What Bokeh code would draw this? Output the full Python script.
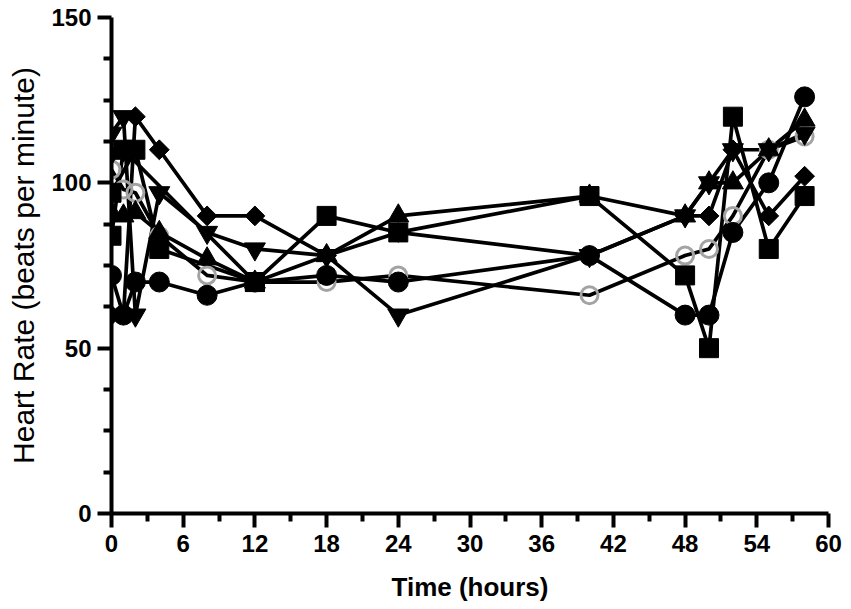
import math
from bokeh.plotting import figure
from bokeh.models import Range1d, FixedTicker
from bokeh.embed import file_html
from bokeh.resources import INLINE

NaN = float("nan")

# Time points (hours)
hours = [0, 1, 2, 4, 8, 12, 18, 24, 40, 48, 50, 52, 55, 58]

# Heart rate (beats per minute) per subject
hr_circle     = [72, 60, 70, 70, 66, 70, 72, 70, 78, 60, 60, 85, 100, 126]
hr_open       = [104, 98, 97, 84, 72, 70, 70, 72, 66, 78, 80, 90, 110, 114]
hr_square_a   = [97, NaN, 110, 80, NaN, 70, 90, 85, 96, 72, 50, 120, 80, 96]
hr_square_b   = [84, 110, NaN, NaN, NaN, 70, NaN, NaN, NaN, NaN, NaN, NaN, NaN, NaN]
hr_tri_up     = [91, 90, 91, 85, 77, 70, 78, 90, 96, 90, 100, 100, 110, 119]
hr_tri_down_a = [115, 120, 60, 97, 85, 80, 78, 60, 78, 90, 100, 110, 110, 115]
hr_tri_down_b = [109, 110, NaN, NaN, NaN, NaN, NaN, NaN, NaN, NaN, NaN, NaN, NaN, NaN]
hr_diamond    = [60, 60, 120, 110, 90, 90, 78, 85, 78, 90, 90, 110, 90, 102]

x_ticks = [0, 6, 12, 18, 24, 30, 36, 42, 48, 54, 60]
x_minor = [3, 9, 15, 21, 27, 33, 39, 45, 51, 57]
y_ticks = [0, 50, 100, 150]
y_minor = [12.5, 25, 37.5, 62.5, 75, 87.5, 112.5, 125, 137.5]

# (values, marker, size, angle, fill, line colour, line width)
series = [
    (hr_open, "circle", 17, 0, None, "#a3a3a3", 3),
    (hr_square_b, "square", 19, 0, "black", "black", 1),
    (hr_tri_down_b, "inverted_triangle", 21, 0, "black", "black", 1),
    (hr_diamond, "square", 14, math.pi / 4, "black", "black", 1),
    (hr_tri_up, "triangle", 21, 0, "black", "black", 1),
    (hr_tri_down_a, "inverted_triangle", 21, 0, "black", "black", 1),
    (hr_square_a, "square", 19, 0, "black", "black", 1),
    (hr_circle, "circle", 20, 0, "black", "black", 1),
]

p = figure(width=845, height=609, output_backend="svg", toolbar_location=None,
           x_range=Range1d(0, 60), y_range=Range1d(0, 150),
           min_border_left=111, min_border_right=17, min_border_top=17, min_border_bottom=96)
p.outline_line_color = None
p.grid.visible = False
p.background_fill_color = "white"
p.border_fill_color = "white"

for vals, *_ in series:
    xs = [h for h, v in zip(hours, vals) if not math.isnan(v)]
    ys = [v for v in vals if not math.isnan(v)]
    p.line(xs, ys, line_color="black", line_width=3.7)

for vals, marker, size, ang, fill, line, lw in series:
    xs = [h for h, v in zip(hours, vals) if not math.isnan(v)]
    ys = [v for v in vals if not math.isnan(v)]
    p.scatter(xs, ys, marker=marker, size=size, angle=ang, fill_color=fill,
              line_color=line, line_width=lw)

p.xaxis.ticker = FixedTicker(ticks=x_ticks, minor_ticks=x_minor)
p.yaxis.ticker = FixedTicker(ticks=y_ticks, minor_ticks=y_minor)

for ax in (p.xaxis, p.yaxis):
    ax.axis_line_width = 4
    ax.axis_line_color = "black"
    ax.major_tick_line_width = 4
    ax.minor_tick_line_width = 4
    ax.major_tick_line_color = "black"
    ax.minor_tick_line_color = "black"
    ax.major_tick_in = 0
    ax.minor_tick_in = 0
    ax.major_tick_out = 14
    ax.minor_tick_out = 8
    ax.major_label_text_font = "Liberation Sans"
    ax.major_label_text_font_style = "bold"
    ax.major_label_text_font_size = "24px"
    ax.major_label_text_color = "black"
    ax.axis_label_text_font = "Liberation Sans"
    ax.axis_label_text_color = "black"

p.xaxis.major_label_standoff = 7
p.yaxis.major_label_standoff = 6

p.xaxis.axis_label = "Time (hours)"
p.xaxis.axis_label_text_font_style = "bold"
p.xaxis.axis_label_text_font_size = "26px"
p.xaxis.axis_label_standoff = 17

p.yaxis.axis_label = "Heart Rate (beats per minute)"
p.yaxis.axis_label_text_font_style = "normal"
p.yaxis.axis_label_text_font_size = "30px"
p.yaxis.axis_label_standoff = 8

open("out.html", "w").write(file_html(p, INLINE))
